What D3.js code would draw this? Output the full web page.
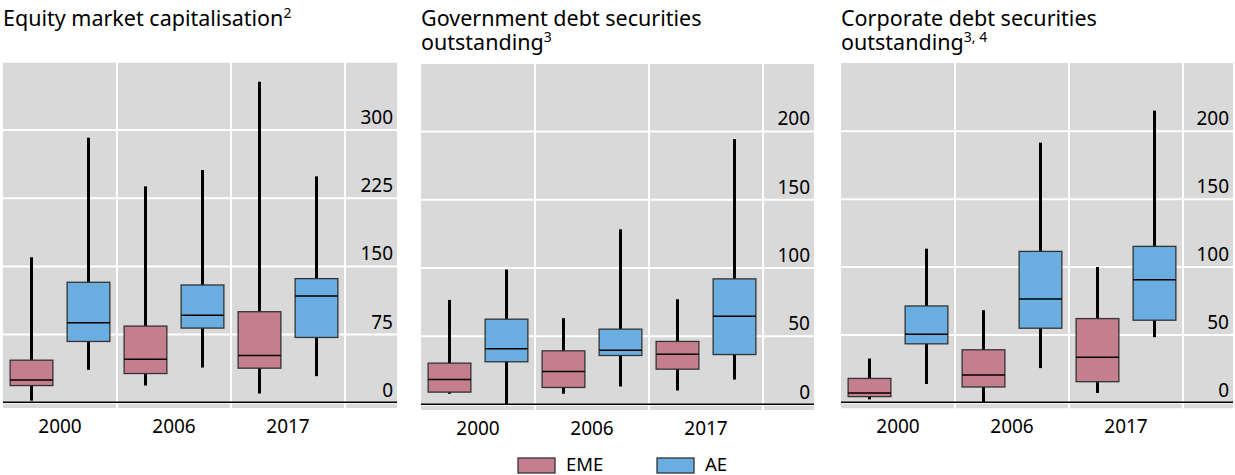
<!DOCTYPE html>
<html>
<head>
<meta charset="utf-8">
<script src="https://cdn.jsdelivr.net/npm/d3@7"></script>
<style>
  html, body { margin: 0; padding: 0; background: #ffffff; }
  svg { display: block; font-family: "Noto Sans", "Open Sans", sans-serif; }
</style>
</head>
<body>
<svg id="chart" width="1235" height="475"></svg>
<script>
// ---------------- DATA ----------------
const categories = ["2000", "2006", "2017"];
const groups = ["EME", "AE"];
// each entry: [whisker low, box low, median, box high, whisker high]
const equityEME = [[1.8, 18.4, 24.6, 46.3, 159.5], [18.4, 31.6, 47.4, 83.8, 237.5], [9.6, 37.5, 51.5, 99.6, 352.5]];
const equityAE  = [[35.7, 66.9, 87.5, 132, 291], [38.2, 81.6, 95.6, 129, 255.5], [28.7, 71.3, 116.9, 136, 248.5]];
const govEME    = [[7.6, 8.8, 18, 30, 76.3], [7.6, 12.2, 23.9, 39, 62.9], [10, 25.6, 36.6, 45.9, 76.8]];
const govAE     = [[0, 31, 40.5, 62.2, 98.5], [12.9, 35.6, 39.5, 54.9, 128], [18, 36.3, 64.4, 91.7, 194]];
const corpEME   = [[2.2, 4.2, 6.9, 17.6, 32.3], [0, 11.3, 20.1, 38.7, 67.9], [6.9, 15.2, 33.3, 61.7, 99.7]];
const corpAE    = [[13.5, 43.1, 50.2, 71, 113.2], [25.2, 54.6, 76.2, 111.2, 191.3], [48, 60.5, 90.4, 114.9, 214.9]];
const equityTicks = [0, 75, 150, 225, 300];
const debtTicks = [0, 50, 100, 150, 200];
const titles = [
  [{t: "Equity market capitalisation", s: "2"}],
  [{t: "Government debt securities", s: ""}, {t: "outstanding", s: "3"}],
  [{t: "Corporate debt securities", s: ""}, {t: "outstanding", s: "3, 4"}]
];
const legendLabels = ["EME", "AE"];

// ---------------- STYLE / LAYOUT ----------------
const colors = {EME: "#C47E8E", AE: "#69ADE1"};
const bg = "#D9D9D9";
const panels = [
  {left: 3,   width: 394, top: 62.7, bottom: 408,   zero: 402.3, domain: [-6.3, 373.5], eme: equityEME, ae: equityAE, ticks: equityTicks, title: titles[0]},
  {left: 421, width: 393, top: 64,   bottom: 410,   zero: 404.3, domain: [-4.3, 249],   eme: govEME,    ae: govAE,    ticks: debtTicks,   title: titles[1]},
  {left: 841, width: 392, top: 63,   bottom: 408.3, zero: 402.3, domain: [-4.4, 250],   eme: corpEME,   ae: corpAE,   ticks: debtTicks,   title: titles[2]}
];
const bandW = 114;
const fontSize = 19;
const titleSize = 21.5;

const svg = d3.select("#chart");

panels.forEach((p) => {
  const g = svg.append("g");
  const y = d3.scaleLinear().domain(p.domain).range([p.bottom, p.top]);
  const x = d3.scaleBand().domain(categories).range([p.left, p.left + 3 * bandW]).padding(0);
  const xs = d3.scaleBand().domain(groups).range([0, bandW]).paddingInner(0.25).paddingOuter(0.125);

  // background
  g.append("rect").attr("x", p.left).attr("y", p.top)
    .attr("width", p.width).attr("height", p.bottom - p.top).attr("fill", bg);

  // horizontal gridlines + tick labels via axis
  const yAxis = d3.axisRight(y).tickValues(p.ticks).tickSize(p.width).tickFormat(d3.format("d"));
  const ya = g.append("g").attr("transform", `translate(${p.left},0)`).call(yAxis);
  ya.select(".domain").remove();
  ya.selectAll(".tick line").attr("stroke", "#ffffff").attr("stroke-width", 2);
  ya.selectAll(".tick text")
    .attr("x", p.width - 4).attr("dy", -6).attr("text-anchor", "end")
    .attr("font-size", fontSize).attr("font-family", "Noto Sans, sans-serif").attr("fill", "#000");

  // vertical gridlines at band boundaries
  g.selectAll(".vgrid").data(categories).enter().append("line")
    .attr("x1", d => x(d) + x.bandwidth()).attr("x2", d => x(d) + x.bandwidth())
    .attr("y1", p.top).attr("y2", p.bottom)
    .attr("stroke", "#ffffff").attr("stroke-width", 2);

  // zero axis line
  g.append("line").attr("x1", p.left).attr("x2", p.left + p.width)
    .attr("y1", y(0)).attr("y2", y(0)).attr("stroke", "#000").attr("stroke-width", 1.5);

  // boxes
  const series = [{k: "EME", v: p.eme}, {k: "AE", v: p.ae}];
  series.forEach(s => {
    s.v.forEach((d, i) => {
      const cx = x(categories[i]) + xs(s.k) + xs.bandwidth() / 2;
      const bx = x(categories[i]) + xs(s.k);
      g.append("line").attr("x1", cx).attr("x2", cx)
        .attr("y1", y(d[0])).attr("y2", y(d[4]))
        .attr("stroke", "#000").attr("stroke-width", 3);
      g.append("rect").attr("x", bx).attr("y", y(d[3]))
        .attr("width", xs.bandwidth()).attr("height", y(d[1]) - y(d[3]))
        .attr("fill", colors[s.k]).attr("stroke", "#333").attr("stroke-width", 1.3);
      g.append("line").attr("x1", bx).attr("x2", bx + xs.bandwidth())
        .attr("y1", y(d[2])).attr("y2", y(d[2]))
        .attr("stroke", "#000").attr("stroke-width", 1.5);
    });
  });

  // category axis
  const xAxis = d3.axisBottom(x).tickSize(0).tickPadding(0);
  const xa = g.append("g").attr("transform", `translate(0,${p.zero + 31})`).call(xAxis);
  xa.select(".domain").remove();
  xa.selectAll(".tick text").attr("dy", 0).attr("font-size", fontSize)
    .attr("font-family", "Noto Sans, sans-serif").attr("fill", "#000");

  // title (one text element, one tspan line each)
  const t = svg.append("text").attr("x", p.left).attr("y", 26)
    .attr("font-size", titleSize).attr("fill", "#000");
  p.title.forEach((line, li) => {
    t.append("tspan").attr("x", p.left).attr("y", 26 + li * 23.5).text(line.t);
    if (line.s) {
      t.append("tspan").attr("font-size", 14).attr("dy", -8).text(line.s);
    }
  });
});

// legend
const lx = d3.scaleOrdinal().domain(legendLabels).range([518, 657]);
const lg = svg.append("g");
legendLabels.forEach(k => {
  lg.append("rect").attr("x", lx(k)).attr("y", 458).attr("width", 37).attr("height", 15)
    .attr("fill", colors[k]).attr("stroke", "#333").attr("stroke-width", 1.3);
  lg.append("text").attr("x", lx(k) + 48).attr("y", 471).attr("font-size", 18.5)
    .attr("fill", "#000").text(k);
});
</script>
</body>
</html>
